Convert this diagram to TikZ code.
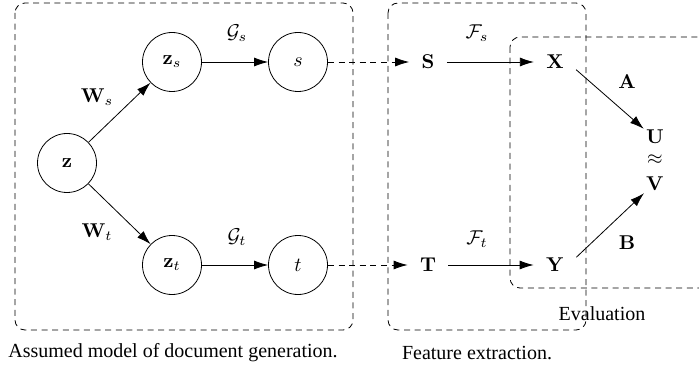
\documentclass[tikz,border=0pt]{standalone}
\usepackage[no-math]{fontspec}
\setmainfont{Liberation Serif}
\usetikzlibrary{arrows.meta}

\begin{document}
\begin{tikzpicture}[x=0.5pt,y=-0.5pt,
  var/.style={draw,circle,minimum size=29.5pt,inner sep=0pt},
  obs/.style={inner sep=6pt},
  res/.style={inner sep=1pt},
  box/.style={draw,dash pattern=on 3pt off 2.3pt,rounded corners=5pt},
  arr/.style={-{Latex[length=7pt,width=4.5pt]}},
  darr/.style={arr,dash pattern=on 3pt off 2.3pt}]
\clip (0,0) rectangle (699,368);

% the three regions
\draw[box] (15,3) rectangle (353,330);
\draw[box] (388,3) rectangle (586,330);
\draw[box] (510,37) rectangle (730,288);

% generative model
\node[var] (z) at (67,163) {$\mathbf{z}$};
\node[var] (zs) at (172,62) {$\mathbf{z}_s$};
\node[var] (s) at (298,62) {$s$};
\node[var] (zt) at (172,265) {$\mathbf{z}_t$};
\node[var] (t) at (298,265) {$t$};

% features
\node[obs] (S) at (428,62) {$\mathbf{S}$};
\node[obs] (T) at (428,265) {$\mathbf{T}$};
\node[obs] (X) at (555,62) {$\mathbf{X}$};
\node[obs] (Y) at (555,265) {$\mathbf{Y}$};

% evaluation
\node[res] (U) at (655,137) {$\mathbf{U}$};
\node[res,inner sep=0pt] (approx) at (655,160) {$\approx$};
\node[res] (V) at (655,184) {$\mathbf{V}$};

\draw[arr] (z) -- (zs);
\draw[arr] (z) -- (zt);
\draw[arr] (zs) -- (s);
\draw[arr] (zt) -- (t);
\draw[darr] (s) -- (S);
\draw[darr] (t) -- (T);
\draw[arr] (S) -- (X);
\draw[arr] (T) -- (Y);
\draw[arr] (X.-20) -- (U.144);
\draw[arr] (Y.20) -- (V.-140);

% labels
\node (Wslbl) at (97,97) {$\mathbf{W}_s$};
\node (Wtlbl) at (97,232) {$\mathbf{W}_t$};
\node (Gslbl) at (237,33) {$\mathcal{G}_s$};
\node (Gtlbl) at (237,237) {$\mathcal{G}_t$};
\node (Fslbl) at (477,33) {$\mathcal{F}_s$};
\node (Ftlbl) at (477,239) {$\mathcal{F}_t$};
\node (Albl) at (627,82) {$\mathbf{A}$};
\node (Blbl) at (627,243) {$\mathbf{B}$};

\node (evallbl) at (602,314) {Evaluation};
\node (capgen) at (173,353) {Assumed model of document generation.};
\node (capfeat) at (477,353) {Feature extraction.};
\end{tikzpicture}
\end{document}
